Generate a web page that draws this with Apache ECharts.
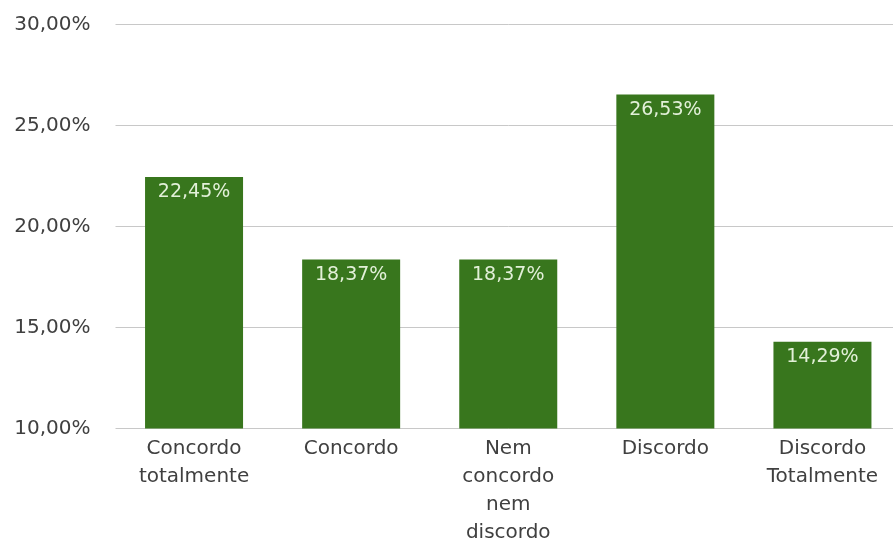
<!DOCTYPE html>
<html>
<head>
<meta charset="utf-8">
<script src="https://cdn.jsdelivr.net/npm/echarts@6/dist/echarts.min.js"></script>
<style>
  html, body { margin: 0; padding: 0; background: #ffffff; overflow: hidden; }
  /* canvas is a little wider than the page; the last band runs past the right edge */
  #chart { width: 901px; height: 548px; }
</style>
</head>
<body>
<div id="chart"></div>
<script>
// Survey answers and their share of responses (%)
const categories = [
  'Concordo\ntotalmente',
  'Concordo',
  'Nem\nconcordo\nnem\ndiscordo',
  'Discordo',
  'Discordo\nTotalmente'
];
const shares = [22.45, 18.37, 18.37, 26.53, 14.29];

const yMin = 10;
const yMax = 30;
const yStep = 5;

const pct = v => v.toFixed(2).replace('.', ',') + '%';

const chart = echarts.init(document.getElementById('chart'), null, { renderer: 'canvas' });

chart.setOption({
  animation: false,
  backgroundColor: '#ffffff',
  textStyle: { fontFamily: '"DejaVu Sans", Verdana, sans-serif' },
  grid: { left: 115.5, right: 0, top: 24.5, bottom: 119.5, containLabel: false },
  xAxis: {
    type: 'category',
    data: categories,
    axisLine: { show: false },
    axisTick: { show: false },
    axisLabel: {
      color: '#404040',
      fontSize: 20,
      lineHeight: 28,
      margin: 6,
      interval: 0
    }
  },
  yAxis: {
    type: 'value',
    min: yMin,
    max: yMax,
    interval: yStep,
    axisLine: { show: false },
    axisTick: { show: false },
    splitLine: { lineStyle: { color: '#c8c8c8', width: 1 } },
    axisLabel: {
      color: '#404040',
      fontSize: 20,
      margin: 25,
      formatter: pct
    }
  },
  series: [{
    type: 'bar',
    data: shares,
    barWidth: 98,
    itemStyle: { color: '#38761d' },
    label: {
      show: true,
      position: 'insideTop',
      distance: 6,
      color: '#e2f0d8',
      fontSize: 19,
      formatter: p => pct(p.value)
    }
  }]
});
</script>
</body>
</html>
